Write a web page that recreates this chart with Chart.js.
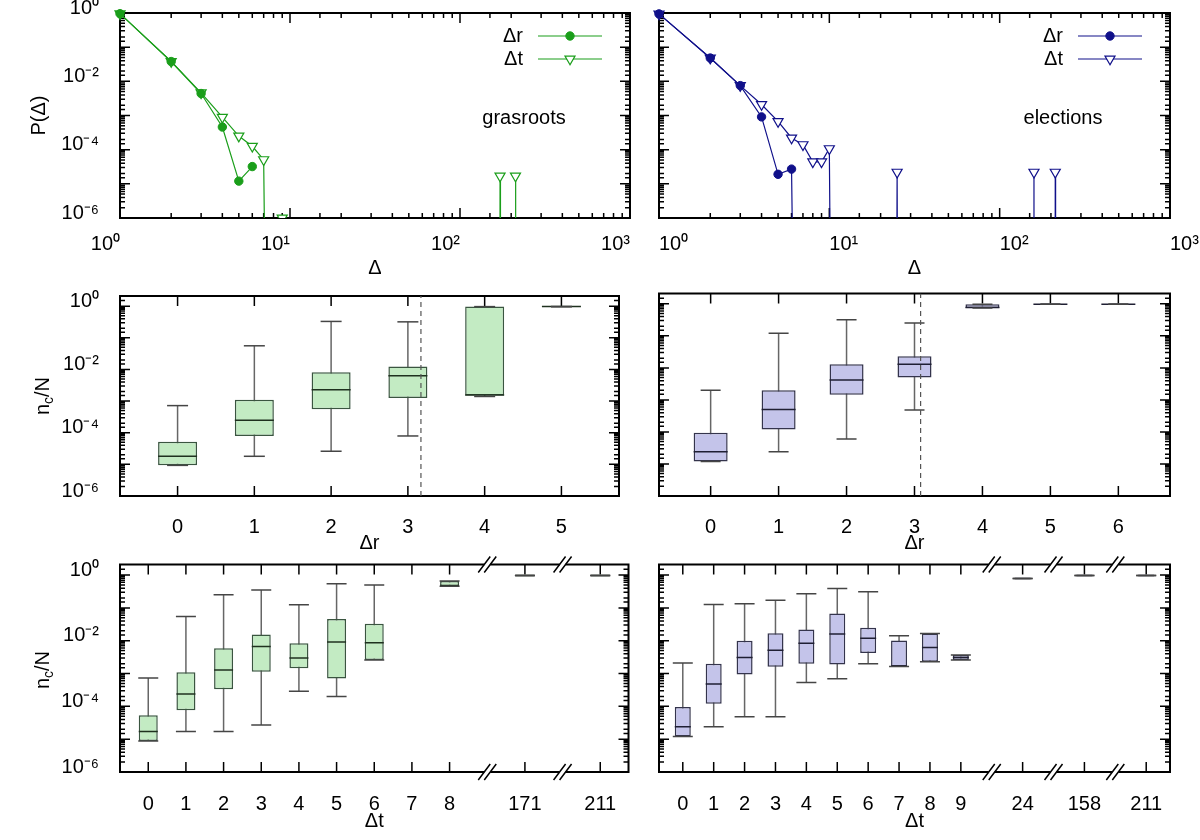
<!DOCTYPE html>
<html lang="en">
<head>
<meta charset="utf-8">
<title>Cluster sizes vs. rank and time gaps</title>
<script src="https://cdn.jsdelivr.net/npm/chart.js@4.4.1/dist/chart.umd.min.js"></script>
<style>
  body { margin: 0; width: 1200px; height: 840px; position: relative; background: #fff; overflow: hidden;
         font-family: "Liberation Sans", Arial, Helvetica, sans-serif; }
  canvas { position: absolute; }
  .txt { position: absolute; font-size: 20px; color: #000; white-space: nowrap; transform: translate(-50%, -50%); }
  .rot { transform: translate(-50%, -50%) rotate(-90deg); }
  .rot sub { font-size: 14px; vertical-align: -4px; line-height: 0; }
</style>
</head>
<body>
<canvas id="tl" width="640" height="280" style="left:0;top:0"></canvas>
<canvas id="tr" width="560" height="280" style="left:640px;top:0"></canvas>
<canvas id="ml" width="640" height="280" style="left:0;top:275px"></canvas>
<canvas id="mr" width="560" height="280" style="left:640px;top:275px"></canvas>
<canvas id="bl" width="640" height="280" style="left:0;top:553px"></canvas>
<canvas id="br" width="560" height="280" style="left:640px;top:553px"></canvas>
<div class="txt" style="left:524px;top:117px">grasroots</div>
<div class="txt" style="left:1063px;top:117px">elections</div>
<div class="txt rot" style="left:42px;top:396px">n<sub>c</sub>/N</div>
<div class="txt rot" style="left:42px;top:670px">n<sub>c</sub>/N</div>
<script>
//Data

// P(Δ), plotted at Δ+1 on the log axis; 0 = no event
const grasDrX = [1, 2, 3, 4, 5, 6];
const grasDrP = [0.955, 0.038, 0.0044, 4.6e-4, 1.2e-5, 3.2e-5];
const grasDtX = [1, 2, 3, 4, 5, 6, 7, 8, 9, 10, 171, 172, 173, 211, 212, 213];
const grasDtP = [0.955, 0.038, 0.0046, 8.9e-4, 2.5e-4, 1.26e-4, 5.1e-5, 0, 1e-6, 0, 0, 1.7e-5, 0, 0, 1.7e-5, 0];

const elecDrX = [1, 2, 3, 4, 5, 6, 7];
const elecDrP = [0.94, 0.048, 0.0075, 9.1e-4, 1.9e-5, 2.7e-5, 0];
const elecDtX = [1, 2, 3, 4, 5, 6, 7, 8, 9, 10, 11, 24, 25, 26, 158, 159, 160, 211, 212, 213];
const elecDtP = [0.94, 0.048, 0.0075, 2.1e-3, 6.7e-4, 2.2e-4, 1.4e-4, 4.4e-5, 4.4e-5, 1.07e-4, 0, 0, 2.2e-5, 0, 0, 2.2e-5, 0, 0, 2.2e-5, 0];

// n_c/N vs Δr, grasroots
const grasRPos = [0, 1, 2, 3, 4, 5];
const grasRMin = [9.3e-6, 1.8e-5, 2.6e-5, 7.9e-5, 1.4e-3, 0.97];
const grasRQ1 = [9.3e-6, 7.9e-5, 5.5e-4, 1.26e-3, 1.5e-3, 0.97];
const grasRMed = [1.8e-5, 2.5e-4, 2.3e-3, 6.3e-3, 1.55e-3, 0.97];
const grasRQ3 = [5.2e-5, 1.1e-3, 8.1e-3, 0.0123, 0.97, 0.97];
const grasRMax = [7.2e-4, 0.056, 0.33, 0.32, 0.97, 0.97];
const grasRCut = 3.17;

// n_c/N vs Δr, elections
const elecRPos = [0, 1, 2, 3, 4, 5, 6];
const elecRMin = [1.2e-5, 2.4e-5, 6e-5, 4.8e-4, 0.74, 0.97, 0.97];
const elecRQ1 = [1.2e-5, 1.2e-4, 1.45e-3, 5.0e-3, 0.74, 0.97, 0.97];
const elecRMed = [2.4e-5, 5.0e-4, 4.2e-3, 0.013, 0.77, 0.97, 0.97];
const elecRQ3 = [9.4e-5, 2.0e-3, 0.013, 0.023, 0.97, 0.97, 0.97];
const elecRMax = [2.0e-3, 0.12, 0.32, 0.25, 0.97, 0.97, 0.97];
const elecRCut = 3.09;

// n_c/N vs Δt, grasroots (axis broken after 8)
const grasTTicks = [0, 1, 2, 3, 4, 5, 6, 7, 8, 10, 12];
const grasTLabels = ["0", "1", "2", "3", "4", "5", "6", "7", "8", "171", "211"];
const grasTBreaks = [9, 11];
const grasTPos = [0, 1, 2, 3, 4, 5, 6, 8, 10, 12];
const grasTMin = [8.8e-6, 1.7e-5, 1.7e-5, 2.7e-5, 2.9e-4, 2.0e-4, 2.6e-3, 0.46, 0.97, 0.97];
const grasTQ1 = [8.8e-6, 7.6e-5, 3.3e-4, 1.14e-3, 1.44e-3, 7.1e-4, 2.6e-3, 0.46, 0.97, 0.97];
const grasTMed = [1.7e-5, 2.4e-4, 1.28e-3, 6.7e-3, 3.0e-3, 9.1e-3, 8.7e-3, 0.48, 0.97, 0.97];
const grasTQ3 = [5.4e-5, 1.1e-3, 5.9e-3, 0.0155, 8.3e-3, 0.046, 0.033, 0.66, 0.97, 0.97];
const grasTMax = [7.3e-4, 0.055, 0.25, 0.35, 0.125, 0.54, 0.5, 0.66, 0.97, 0.97];

// n_c/N vs Δt, elections (axis broken after 9)
const elecTTicks = [0, 1, 2, 3, 4, 5, 6, 7, 8, 9, 11, 13, 15];
const elecTLabels = ["0", "1", "2", "3", "4", "5", "6", "7", "8", "9", "24", "158", "211"];
const elecTBreaks = [10, 12, 14];
const elecTPos = [0, 1, 2, 3, 4, 5, 6, 7, 8, 9, 11, 13, 15];
const elecTMin = [1.2e-5, 2.4e-5, 4.8e-5, 4.8e-5, 5.3e-4, 6.9e-4, 2.0e-3, 1.65e-3, 2.3e-3, 2.6e-3, 0.78, 0.97, 0.97];
const elecTQ1 = [1.2e-5, 1.2e-4, 9.4e-4, 1.6e-3, 2.0e-3, 1.9e-3, 4.2e-3, 1.65e-3, 2.3e-3, 2.6e-3, 0.78, 0.97, 0.97];
const elecTMed = [2.4e-5, 4.8e-4, 3.1e-3, 5.1e-3, 8.3e-3, 0.016, 0.0118, 1.7e-3, 6.2e-3, 3.1e-3, 0.78, 0.97, 0.97];
const elecTQ3 = [9.6e-5, 2.0e-3, 0.010, 0.017, 0.022, 0.067, 0.025, 0.0102, 0.0166, 3.7e-3, 0.78, 0.97, 0.97];
const elecTMax = [2.1e-3, 0.128, 0.134, 0.17, 0.27, 0.39, 0.31, 0.0142, 0.0166, 3.7e-3, 0.78, 0.97, 0.97];

//Styles

const FONT = '"Liberation Sans", Arial, Helvetica, sans-serif';
const GREEN = "#1a9e1a";
const NAVY = "#10108a";
const greenBox = { fill: "#c3ebc3", edge: "#3a5540", median: "#1f311f", whisker: "#666666", cap: "#454545" };
const blueBox = { fill: "#c4c4ea", edge: "#34344c", median: "#1f1f33", whisker: "#666666", cap: "#454545" };
const FLOOR = 1e-30; // stands in for zero on the log axis
const CLIP = { left: 8, top: 8, right: 8, bottom: 0 };

Chart.defaults.font.family = FONT;
Chart.defaults.font.size = 20;
Chart.defaults.color = "#000";
Chart.defaults.animation = false;
Chart.defaults.events = [];
Chart.defaults.plugins.legend.display = false;
Chart.defaults.plugins.tooltip.enabled = false;

const SUP = { "-": "\u207B", 0: "\u2070", 1: "\u00B9", 2: "\u00B2", 3: "\u00B3", 4: "\u2074", 5: "\u2075", 6: "\u2076", 7: "\u2077", 8: "\u2078", 9: "\u2079" };
const pow10 = (e) => "10" + String(e).split("").map((c) => SUP[c]).join("");
const isDecade = (v) => Math.abs(Math.log10(v) - Math.round(Math.log10(v))) < 1e-9;

//Plugins

// gnuplot-like frame with inward ticks on all four sides
const frameTicks = {
	id: "frameTicks",
	beforeDatasetsDraw(chart) {
		const { ctx, chartArea: a } = chart;
		const { x, y } = chart.scales;
		const len = (s, v) => (s.type === "logarithmic" && !isDecade(v) ? 5 : 10);
		ctx.save();
		ctx.strokeStyle = "#000";
		ctx.lineWidth = 1.5;
		ctx.beginPath();
		x.ticks.forEach((t) => {
			const p = x.getPixelForValue(t.value);
			if (p < a.left + 1 || p > a.right - 1) return;
			const l = len(x, t.value);
			ctx.moveTo(p, a.bottom);
			ctx.lineTo(p, a.bottom - l);
			ctx.moveTo(p, a.top);
			ctx.lineTo(p, a.top + l);
		});
		y.ticks.forEach((t) => {
			const p = y.getPixelForValue(t.value);
			if (p < a.top + 1 || p > a.bottom - 1) return;
			const l = len(y, t.value);
			ctx.moveTo(a.left, p);
			ctx.lineTo(a.left + l, p);
			ctx.moveTo(a.right, p);
			ctx.lineTo(a.right - l, p);
		});
		ctx.stroke();
		ctx.lineWidth = 2;
		ctx.strokeRect(a.left, a.top, a.right - a.left, a.bottom - a.top);
		ctx.restore();
	},
};

// "//" marks where the x axis is broken
const axisBreaks = {
	id: "axisBreaks",
	afterDraw(chart, args, opts) {
		if (!opts.at) return;
		const { ctx, chartArea: a } = chart;
		const x = chart.scales.x;
		ctx.save();
		opts.at.forEach((v) => {
			const p = x.getPixelForValue(v);
			[a.top, a.bottom].forEach((y) => {
				ctx.fillStyle = "#fff";
				ctx.fillRect(p - 3, y - 2, 6, 4);
				ctx.strokeStyle = "#000";
				ctx.lineWidth = 1.5;
				ctx.beginPath();
				ctx.moveTo(p - 3 - 6, y + 8);
				ctx.lineTo(p - 3 + 6, y - 8);
				ctx.moveTo(p + 3 - 6, y + 8);
				ctx.lineTo(p + 3 + 6, y - 8);
				ctx.stroke();
			});
		});
		ctx.restore();
	},
};

// key drawn like gnuplot: label, then a line sample with the marker
const keyLegend = {
	id: "keyLegend",
	afterDatasetsDraw(chart, args, o) {
		if (!o.x0) return;
		const ctx = chart.ctx;
		ctx.save();
		ctx.font = "20px " + FONT;
		ctx.textAlign = "right";
		ctx.textBaseline = "middle";
		chart.data.datasets.forEach((ds, i) => {
			const y = o.y + i * o.dy;
			const xm = (o.x0 + o.x1) / 2;
			ctx.fillStyle = "#000";
			ctx.fillText(ds.label, o.textRight, y);
			ctx.strokeStyle = ds.borderColor;
			ctx.lineWidth = ds.borderWidth;
			ctx.beginPath();
			ctx.moveTo(o.x0, y);
			ctx.lineTo(o.x1, y);
			ctx.stroke();
			const r = o.radius[i];
			ctx.beginPath();
			if (ds.pointStyle === "circle") {
				ctx.arc(xm, y, r, 0, Math.PI * 2);
			} else {
				ctx.moveTo(xm, y + r);
				ctx.lineTo(xm - r * 0.866, y - r / 2);
				ctx.lineTo(xm + r * 0.866, y - r / 2);
				ctx.closePath();
			}
			ctx.fillStyle = ds.pointBackgroundColor;
			ctx.fill();
			ctx.strokeStyle = ds.pointBorderColor;
			ctx.lineWidth = ds.pointBorderWidth;
			ctx.stroke();
		});
		ctx.restore();
	},
};

Chart.register(frameTicks, axisBreaks, keyLegend);

//Axes

function yAxis(max, width, title) {
	return {
		type: "logarithmic",
		min: 1e-6,
		max: max,
		grid: { display: false },
		border: { display: false },
		ticks: {
			display: width > 40,
			autoSkip: false,
			padding: 13,
			// two-line label with a short line height lifts the text a few px, like gnuplot
			font: { lineHeight: 0.5 },
			callback: (v) => {
				const e = Math.round(Math.log10(v));
				return isDecade(v) && e % 2 === 0 ? [pow10(e), ""] : "";
			},
		},
		title: { display: !!title, text: title || "", padding: { top: 27, bottom: 0 }, font: { lineHeight: 1.2 } },
		afterFit: (s) => {
			s.width = width;
			s.paddingTop = 0;
			s.paddingBottom = 0;
		},
	};
}

function xLogAxis(align) {
	return {
		type: "logarithmic",
		min: 1,
		max: 1000,
		grid: { display: false },
		border: { display: false },
		ticks: {
			autoSkip: false,
			maxRotation: 0,
			minRotation: 0,
			padding: 6,
			align: align,
			callback: (v) => (isDecade(v) ? pow10(Math.round(Math.log10(v))) : ""),
		},
		title: { display: true, text: "Δ", padding: 0 },
		afterFit: (s) => {
			s.height = 62;
			s.paddingLeft = 0;
			s.paddingRight = 0;
		},
	};
}

function xCatAxis(min, max, ticks, labels, title, height, pad) {
	return {
		type: "linear",
		min: min,
		max: max,
		offset: false,
		grid: { display: false },
		border: { display: false },
		afterBuildTicks: (s) => {
			s.ticks = ticks.map((v) => ({ value: v }));
		},
		ticks: {
			autoSkip: false,
			maxRotation: 0,
			minRotation: 0,
			padding: pad,
			callback: (v) => {
				const i = ticks.indexOf(v);
				return i < 0 ? "" : labels[i];
			},
		},
		title: { display: true, text: title, padding: 0 },
		afterFit: (s) => {
			s.height = height;
			s.paddingLeft = 0;
			s.paddingRight = 0;
		},
	};
}

//Panels

function points(xs, ys) {
	return xs.map((x, i) => ({ x: x, y: ys[i] > 0 ? ys[i] : FLOOR }));
}

function shown(r) {
	return (c) => (c.raw && c.raw.y > FLOOR ? r : 0);
}

function distPanel(id, color, drX, drP, dtX, dtP, side) {
	const left = side === "left";
	return new Chart(document.getElementById(id), {
		type: "line",
		data: {
			datasets: [
				{
					label: "Δr",
					data: points(drX, drP),
					borderColor: color,
					borderWidth: 1.2,
					pointStyle: "circle",
					pointRadius: shown(4.2),
					pointBackgroundColor: color,
					pointBorderColor: color,
					pointBorderWidth: 1,
					clip: CLIP,
				},
				{
					label: "Δt",
					data: points(dtX, dtP),
					borderColor: color,
					borderWidth: 1.2,
					pointStyle: "triangle",
					pointRotation: 180,
					pointRadius: shown(5.8),
					pointBackgroundColor: "#fff",
					pointBorderColor: color,
					pointBorderWidth: 1.2,
					clip: CLIP,
				},
			],
		},
		options: {
			responsive: false,
			layout: { padding: { top: 13, right: left ? 10 : 30, left: 0, bottom: 0 } },
			scales: {
				x: xLogAxis(left ? "end" : "start"),
				y: yAxis(1, left ? 120 : 19, left ? "P(Δ)" : ""),
			},
			plugins: {
				keyLegend: left
					? { textRight: 523, x0: 538, x1: 602, y: 36, dy: 23, radius: [4.2, 5.8] }
					: { textRight: 423, x0: 438, x1: 502, y: 36, dy: 23, radius: [4.2, 5.8] },
			},
		},
	});
}

function boxPanel(id, st, box, xAxis, side, cut, breaks) {
	const left = side === "left";
	const [pos, mn, q1, md, q3, mx] = box;
	const datasets = [
		{
			type: "bar",
			data: pos.map((x, i) => ({ x: x, y: [mn[i], mx[i]] })),
			backgroundColor: st.whisker,
			barThickness: 1.5,
			inflateAmount: 0,
			grouped: false,
			order: 5,
		},
		{
			type: "bar",
			data: pos.map((x, i) => ({ x: x, y: [q1[i], q3[i]] })),
			backgroundColor: st.fill,
			borderColor: st.edge,
			borderWidth: 1.5,
			borderSkipped: false,
			barThickness: st.boxW,
			inflateAmount: 0,
			grouped: false,
			order: 4,
		},
		{
			type: "scatter",
			data: pos.map((x, i) => ({ x: x, y: md[i] })),
			pointStyle: "line",
			pointRadius: st.boxW / 2,
			pointBorderColor: st.median,
			pointBorderWidth: 1.5,
			order: 3,
		},
		{
			type: "scatter",
			data: pos.map((x, i) => ({ x: x, y: mn[i] })).concat(pos.map((x, i) => ({ x: x, y: mx[i] }))),
			pointStyle: "line",
			pointRadius: st.capW / 2,
			pointBorderColor: st.cap,
			pointBorderWidth: 1.5,
			order: 2,
		},
	];
	if (cut !== null) {
		datasets.push({
			type: "line",
			data: [
				{ x: cut, y: 1e-6 },
				{ x: cut, y: 2.1 },
			],
			borderColor: "#555",
			borderWidth: 1.2,
			borderDash: [5, 4],
			pointRadius: 0,
			order: 1,
		});
	}
	return new Chart(document.getElementById(id), {
		type: "bar",
		data: { datasets: datasets },
		options: {
			responsive: false,
			layout: { padding: { top: 10, right: left ? 10 : 30, left: 0, bottom: 0 } },
			scales: {
				x: xAxis,
				y: yAxis(2.1, left ? 120 : 19, ""),
			},
			plugins: { axisBreaks: { at: breaks } },
		},
	});
}

distPanel("tl", GREEN, grasDrX, grasDrP, grasDtX, grasDtP, "left");
distPanel("tr", NAVY, elecDrX, elecDrP, elecDtX, elecDtP, "right");

boxPanel(
	"ml",
	{ ...greenBox, boxW: 39, capW: 21 },
	[grasRPos, grasRMin, grasRQ1, grasRMed, grasRQ3, grasRMax],
	xCatAxis(-0.75, 5.75, grasRPos, grasRPos.map(String), "Δr", 59, 11.5),
	"left",
	grasRCut,
	null
);
boxPanel(
	"mr",
	{ ...blueBox, boxW: 34, capW: 20 },
	[elecRPos, elecRMin, elecRQ1, elecRMed, elecRQ3, elecRMax],
	xCatAxis(-0.76, 6.76, elecRPos, elecRPos.map(String), "Δr", 59, 11.5),
	"right",
	elecRCut,
	null
);
boxPanel(
	"bl",
	{ ...greenBox, boxW: 19, capW: 20 },
	[grasTPos, grasTMin, grasTQ1, grasTMed, grasTQ3, grasTMax],
	xCatAxis(-0.75, 12.75, grasTTicks, grasTLabels, "Δt", 61, 12),
	"left",
	null,
	grasTBreaks
);
boxPanel(
	"br",
	{ ...blueBox, boxW: 16, capW: 20 },
	[elecTPos, elecTMin, elecTQ1, elecTMed, elecTQ3, elecTMax],
	xCatAxis(-0.77, 15.77, elecTTicks, elecTLabels, "Δt", 61, 12),
	"right",
	null,
	elecTBreaks
);
</script>
</body>
</html>
